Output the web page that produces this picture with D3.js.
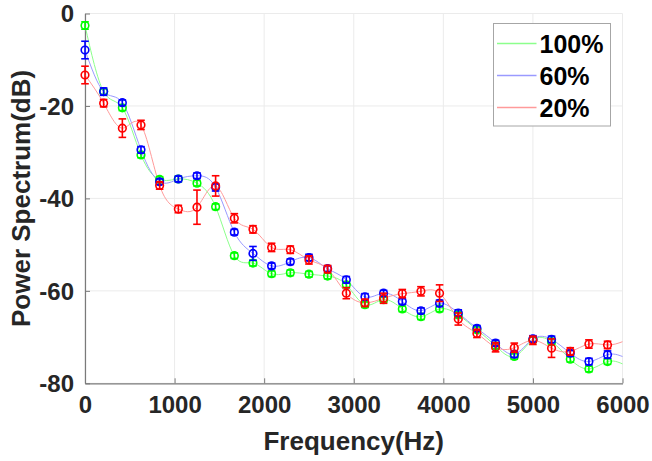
<!DOCTYPE html>
<html>
<head>
<meta charset="utf-8">
<script src="https://cdn.jsdelivr.net/npm/d3@7"></script>
<style>
  body { margin: 0; background: #fff; }
  svg { display: block; font-family: "Liberation Sans", Arial, sans-serif; font-weight: bold; }
</style>
</head>
<body>
<div data-viz="wrapper"></div>
<script>
// frequencies of the markers (Hz)
const freqs = [0, 208, 417, 625, 833, 1042, 1250, 1458, 1667, 1875, 2083, 2292, 2500, 2708, 2917,
  3125, 3333, 3542, 3750, 3958, 4167, 4375, 4583, 4792, 5000, 5208, 5417, 5625, 5833]

const green100 = [-2.6, -16.9, -20.4, -30.6, -35.9, -35.8, -36.7, -41.8, -52.4, -54.0, -56.3, -56.1, -56.4, -56.8, -58.7,
  -63.0, -61.9, -63.9, -65.6, -63.9, -65.2, -68.4, -71.9, -74.2, -70.6, -71.0, -74.8, -76.9, -75.3]
const blue60 = [-7.9, -16.9, -19.3, -29.5, -36.4, -35.8, -35.1, -37.6, -47.3, -51.9, -54.6, -53.7, -52.8, -55.2, -57.6,
  -61.3, -60.5, -62.3, -64.3, -62.7, -64.8, -68.1, -71.3, -73.7, -70.4, -70.5, -73.5, -75.3, -73.8]
const red20 = [-13.3, -19.4, -24.8, -24.1, -37.2, -42.3, -41.9, -37.3, -44.3, -46.7, -50.6, -51.1, -53.3, -55.3, -60.5,
  -62.6, -61.6, -60.6, -60.1, -60.5, -66.1, -69.2, -72.2, -72.3, -70.7, -72.4, -73.1, -71.5, -71.7]

// error bar half widths (dB)
const greenErr = [0.8, 0.6, 0.6, 0.6, 0.6, 0.6, 0.6, 0.6, 0.6, 0.6, 0.6, 0.6, 0.6, 0.6, 0.6,
  0.6, 0.6, 0.6, 0.6, 0.6, 0.6, 0.6, 0.6, 0.6, 0.6, 0.6, 0.6, 0.6, 0.6]
const blueErr = [1.9, 0.8, 0.6, 0.7, 0.6, 0.6, 0.6, 0.8, 0.6, 1.5, 0.6, 0.6, 0.7, 0.6, 0.7,
  0.7, 0.6, 0.6, 0.6, 0.7, 0.7, 0.6, 0.6, 0.7, 0.7, 0.7, 0.6, 0.7, 0.8]
const redErr = [1.9, 0.8, 2.0, 1.0, 0.8, 0.8, 3.7, 2.2, 1.0, 0.8, 0.9, 0.8, 0.9, 0.8, 1.2,
  0.8, 1.1, 0.9, 1.0, 1.8, 1.3, 0.9, 1.0, 1.0, 0.9, 2.0, 0.8, 0.9, 0.8]

// where the smooth lines end at the right edge
const lineEndFreq = 6000
const lineEnd = { green: -75.8, blue: -74.2, red: -71.0 }

const seriesNames = ["100%", "60%", "20%"]
const xTicks = [0, 1000, 2000, 3000, 4000, 5000, 6000]
const yTicks = [-80, -60, -40, -20, 0]

const series = [
  { name: seriesNames[0], key: "green", color: "#00ff00", light: "#8cff8c", values: green100, err: greenErr },
  { name: seriesNames[1], key: "blue", color: "#0000ff", light: "#9a9aff", values: blue60, err: blueErr },
  { name: seriesNames[2], key: "red", color: "#ff0000", light: "#ff9a9a", values: red20, err: redErr },
]

const dimensions = {
  width: 652,
  height: 461,
  margin: { top: 13.5, right: 29.5, bottom: 77.7, left: 85 },
}
dimensions.boundedWidth = dimensions.width - dimensions.margin.left - dimensions.margin.right
dimensions.boundedHeight = dimensions.height - dimensions.margin.top - dimensions.margin.bottom

const xScale = d3.scaleLinear().domain([0, 6000]).range([0, dimensions.boundedWidth])
const yScale = d3.scaleLinear().domain([-80, 0]).range([dimensions.boundedHeight, 0])

const svg = d3.select("[data-viz='wrapper']").append("svg")
    .attr("width", dimensions.width)
    .attr("height", dimensions.height)

const bounds = svg.append("g")
    .attr("transform", `translate(${dimensions.margin.left},${dimensions.margin.top})`)

// grid
bounds.append("g").selectAll("line")
  .data(xTicks)
  .join("line")
    .attr("x1", d => xScale(d)).attr("x2", d => xScale(d))
    .attr("y1", 0).attr("y2", dimensions.boundedHeight)
    .attr("stroke", "#ebebeb").attr("stroke-width", 1)
bounds.append("g").selectAll("line")
  .data(yTicks)
  .join("line")
    .attr("x1", 0).attr("x2", dimensions.boundedWidth)
    .attr("y1", d => yScale(d)).attr("y2", d => yScale(d))
    .attr("stroke", "#ebebeb").attr("stroke-width", 1)

// axes
const plainNumber = d => String(d)
const xAxis = bounds.append("g")
    .attr("transform", `translate(0,${dimensions.boundedHeight})`)
    .call(d3.axisBottom(xScale).tickValues(xTicks).tickFormat(plainNumber)
      .tickSizeInner(-5).tickSizeOuter(0).tickPadding(13))
const yAxis = bounds.append("g")
    .call(d3.axisLeft(yScale).tickValues(yTicks).tickFormat(plainNumber)
      .tickSizeInner(-5).tickSizeOuter(0).tickPadding(11))

for (const ax of [xAxis, yAxis]) {
  ax.select(".domain").attr("stroke", "#7a7a7a").attr("stroke-width", 1.2)
  ax.selectAll(".tick line").attr("stroke", "#7a7a7a")
  ax.selectAll(".tick text")
      .attr("font-size", 24)
      .attr("font-family", "Liberation Sans, Arial, sans-serif")
      .attr("font-weight", "bold")
      .attr("fill", "#262626")
}
xAxis.selectAll(".tick text").attr("dy", "0.71em")
yAxis.selectAll(".tick text").attr("dy", "0.35em")

// lines
const lineGenerator = d3.line()
    .x(d => xScale(d[0]))
    .y(d => yScale(d[1]))
    .curve(d3.curveNatural)

bounds.append("g").selectAll("path")
  .data(series)
  .join("path")
    .attr("d", s => lineGenerator(freqs.map((f, i) => [f, s.values[i]]).concat([[lineEndFreq, lineEnd[s.key]]])))
    .attr("fill", "none")
    .attr("stroke", s => s.light)
    .attr("stroke-width", 1)

// error bars and markers
const capHalf = 3.8
series.forEach(s => {
  const g = bounds.append("g")
      .attr("stroke", s.color)
      .attr("stroke-width", 1.6)
      .attr("fill", "none")
  const pts = freqs.map((f, i) => ({ f, v: s.values[i], e: s.err[i] }))
  g.selectAll(".bar").data(pts).join("line")
      .attr("x1", d => xScale(d.f)).attr("x2", d => xScale(d.f))
      .attr("y1", d => yScale(d.v + d.e)).attr("y2", d => yScale(d.v - d.e))
  g.selectAll(".capTop").data(pts).join("line")
      .attr("x1", d => xScale(d.f) - capHalf).attr("x2", d => xScale(d.f) + capHalf)
      .attr("y1", d => yScale(d.v + d.e)).attr("y2", d => yScale(d.v + d.e))
  g.selectAll(".capBottom").data(pts).join("line")
      .attr("x1", d => xScale(d.f) - capHalf).attr("x2", d => xScale(d.f) + capHalf)
      .attr("y1", d => yScale(d.v - d.e)).attr("y2", d => yScale(d.v - d.e))
  g.selectAll("circle").data(pts).join("circle")
      .attr("cx", d => xScale(d.f))
      .attr("cy", d => yScale(d.v))
      .attr("r", 3.8)
})

// axis labels
svg.append("text")
    .attr("x", dimensions.margin.left + dimensions.boundedWidth / 2)
    .attr("y", 450)
    .attr("text-anchor", "middle")
    .attr("font-size", 26)
    .attr("fill", "#262626")
    .text("Frequency(Hz)")

svg.append("text")
    .attr("transform", `translate(30,${dimensions.margin.top + dimensions.boundedHeight / 2}) rotate(-90)`)
    .attr("text-anchor", "middle")
    .attr("font-size", 26)
    .attr("fill", "#262626")
    .text("Power Spectrum(dB)")

// legend
const legend = svg.append("g").attr("transform", "translate(493.5,23.5)")
legend.append("rect")
    .attr("width", 117)
    .attr("height", 102.5)
    .attr("fill", "#fff")
    .attr("stroke", "#a6a6a6")
    .attr("stroke-width", 1)
series.forEach((s, i) => {
  const y = 20 + i * 32
  legend.append("line")
      .attr("x1", 3.5).attr("x2", 43)
      .attr("y1", y).attr("y2", y)
      .attr("stroke", s.light)
      .attr("stroke-width", 1.5)
  legend.append("text")
      .attr("x", 46)
      .attr("y", y)
      .attr("dy", "0.36em")
      .attr("font-size", 25)
      .attr("fill", "#000")
      .text(s.name)
})
</script>
</body>
</html>
